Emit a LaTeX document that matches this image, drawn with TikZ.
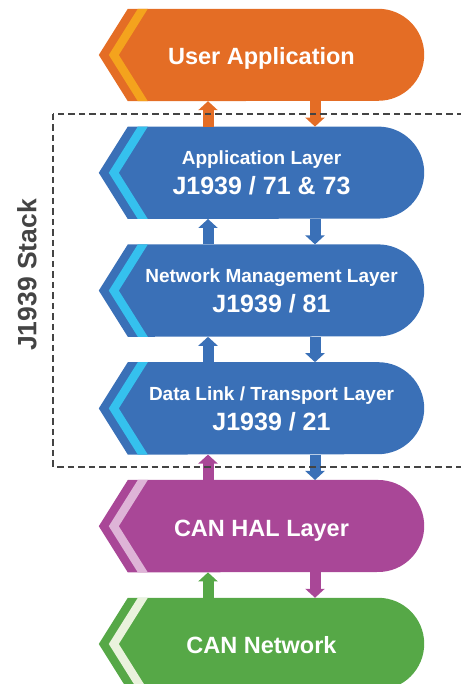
\documentclass[tikz,border=0pt]{standalone}
\usepackage{fontspec}
\setmainfont{Liberation Sans}
\usetikzlibrary{arrows.meta, positioning, backgrounds}
\definecolor{userbody}{HTML}{E46D25}
\definecolor{userstripe}{HTML}{F4A31D}
\definecolor{stackbody}{HTML}{3A70B7}
\definecolor{stackstripe}{HTML}{35C1EE}
\definecolor{halbody}{HTML}{A94797}
\definecolor{halstripe}{HTML}{DEB4D7}
\definecolor{canbody}{HTML}{56A847}
\definecolor{canstripe}{HTML}{EAF2DD}
\definecolor{boxgray}{HTML}{444444}
\newcommand*{\bigline}[1]{{\fontsize{25}{30}\selectfont #1}}

\begin{document}
\begin{tikzpicture}[
        x=1pt, y=1pt, node distance=117.8pt, on grid,
        layerbase/.style={minimum width=325pt, minimum height=92pt, inner sep=0pt,
          align=center, text=white},
        layer/.style={layerbase, text height=20pt, text depth=0pt,
          font=\bfseries\fontsize{23.5}{30}\selectfont},
        twoline/.style={layerbase, font=\bfseries\fontsize{19}{30}\selectfont},
        flow/.style={line width=11pt, -{Triangle[width=19pt, length=9pt]}},
        ]
        \useasboundingbox (0,0) rectangle (460,684);

        \node[layer]                   (user) at (261.5,629) {User Application};
        \node[twoline, below=of user]  (app)  {Application Layer\\ \bigline{J1939 / 71 \& 73}};
        \node[twoline, below=of app]   (mgmt) {\hspace*{20pt}Network Management Layer\\ \hspace*{20pt}\bigline{J1939 / 81}};
        \node[twoline, below=of mgmt]  (link) {\hspace*{20pt}Data Link / Transport Layer\\ \hspace*{20pt}\bigline{J1939 / 21}};
        \node[layer, below=of link]    (hal)  {CAN HAL Layer};
        \node[layer, below=of hal]     (can)  {CAN Network};

        % arrow-shaped bodies with the light stripe
        \begin{scope}[on background layer]
          \foreach \n/\body/\stripe in {user/userbody/userstripe, app/stackbody/stackstripe,
              mgmt/stackbody/stackstripe, link/stackbody/stackstripe,
              hal/halbody/halstripe, can/canbody/canstripe}{
            \fill[\body] (\n.west) -- ([xshift=29pt]\n.north west) -- ([xshift=-46pt]\n.north east)
              arc[start angle=90, end angle=-90, radius=46pt] -- ([xshift=29pt]\n.south west) -- cycle;
            \fill[\stripe] ([xshift=10pt]\n.west) -- ([xshift=39pt]\n.north west) -- ([xshift=49pt]\n.north west)
              -- ([xshift=20pt]\n.west) -- ([xshift=49pt]\n.south west) -- ([xshift=39pt]\n.south west) -- cycle;
          }
        \end{scope}

        \foreach \lo/\hi/\up/\down in {app/user/userbody/userbody, mgmt/app/stackbody/stackbody,
            link/mgmt/stackbody/stackbody, hal/link/halbody/stackbody, can/hal/canbody/halbody}{
          \draw[flow, \up] ([xshift=-53.5pt]\lo.north) -- ([xshift=-53.5pt]\hi.south);
          \draw[flow, \down] ([xshift=53.5pt]\hi.south) -- ([xshift=53.5pt]\lo.north);
        }

        \draw[boxgray, line width=2pt, dash pattern=on 6.5pt off 4pt] (53,570) rectangle (472,217);
        \node[rotate=90, text=boxgray, font=\bfseries\fontsize{26.5}{30}\selectfont] (stack) at (27,409) {J1939 Stack};
\end{tikzpicture}
\end{document}
